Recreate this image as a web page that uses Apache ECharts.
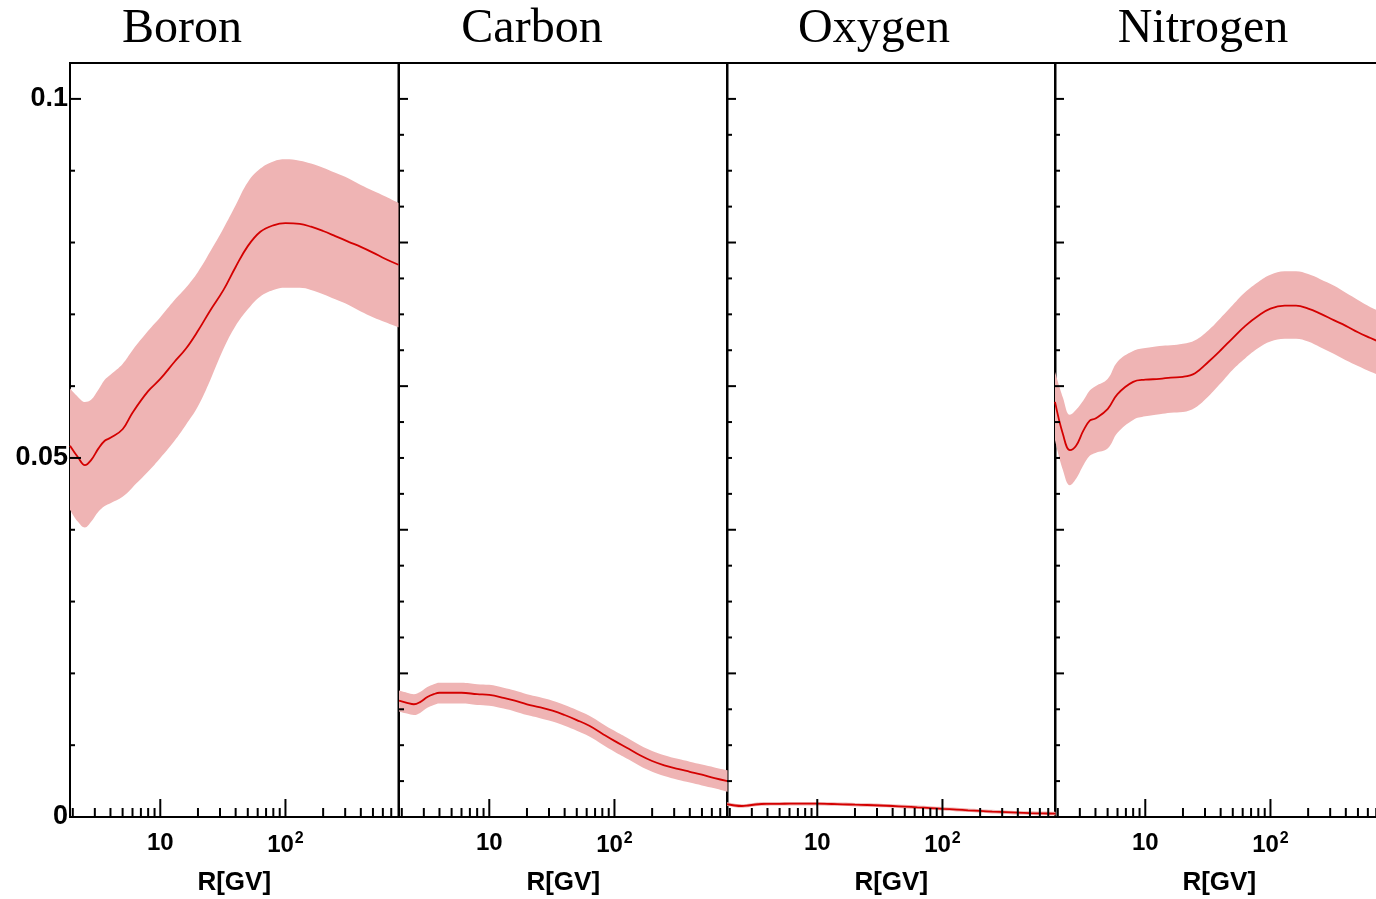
<!DOCTYPE html>
<html>
<head>
<meta charset="utf-8">
<script src="https://cdn.jsdelivr.net/npm/echarts@6/dist/echarts.min.js"></script>
<style>
  html, body { margin: 0; padding: 0; background: #fff; }
  #chart { width: 1376px; height: 899px; }
</style>
</head>
<body>
<div id="chart"></div>
<script>
// Rigidity sampling points (GV), shared by all four panels
const rigidity = [1.9, 2.2, 2.5, 2.8, 3.2, 3.6, 4, 5, 6, 8, 10, 13, 16, 20, 25, 32, 40, 50, 63, 80,
                  100, 130, 160, 200, 250, 320, 400, 500, 630, 800];

const elements = ['Boron', 'Carbon', 'Oxygen', 'Nitrogen'];

// Central curve and uncertainty band for each element
const boronMid  = [0.0517, 0.0501, 0.0490, 0.0497, 0.0513, 0.0524, 0.0528, 0.0540, 0.0563, 0.0593, 0.0610, 0.0634, 0.0652, 0.0677, 0.0705, 0.0734, 0.0766, 0.0795, 0.0815, 0.0824, 0.0827, 0.0826, 0.0822, 0.0816, 0.0809, 0.0801, 0.0794, 0.0786, 0.0777, 0.0769];
const boronLow  = [0.0428, 0.0411, 0.0403, 0.0411, 0.0425, 0.0433, 0.0437, 0.0446, 0.0459, 0.0481, 0.0500, 0.0524, 0.0546, 0.0572, 0.0608, 0.0652, 0.0684, 0.0707, 0.0725, 0.0734, 0.0737, 0.0737, 0.0734, 0.0728, 0.0721, 0.0713, 0.0704, 0.0696, 0.0689, 0.0682];
const boronHigh = [0.0597, 0.0585, 0.0578, 0.0581, 0.0595, 0.0609, 0.0616, 0.0631, 0.0650, 0.0677, 0.0696, 0.0720, 0.0737, 0.0759, 0.0787, 0.0820, 0.0852, 0.0884, 0.0903, 0.0913, 0.0916, 0.0914, 0.0910, 0.0904, 0.0897, 0.0889, 0.0880, 0.0872, 0.0864, 0.0855];

const carbonMid  = [0.0162, 0.0159, 0.0157, 0.0160, 0.0167, 0.0171, 0.0173, 0.0173, 0.0173, 0.0171, 0.0170, 0.0166, 0.0162, 0.0157, 0.0153, 0.0148, 0.0142, 0.0135, 0.0127, 0.0116, 0.0106, 0.0095, 0.0086, 0.0078, 0.0072, 0.0067, 0.0063, 0.0059, 0.0054, 0.0050];
const carbonLow  = [0.0147, 0.0144, 0.0142, 0.0145, 0.0152, 0.0156, 0.0158, 0.0158, 0.0158, 0.0156, 0.0155, 0.0151, 0.0147, 0.0142, 0.0138, 0.0133, 0.0127, 0.0120, 0.0112, 0.0101, 0.0091, 0.0080, 0.0071, 0.0063, 0.0057, 0.0052, 0.0048, 0.0044, 0.0040, 0.0035];
const carbonHigh = [0.0176, 0.0173, 0.0171, 0.0174, 0.0181, 0.0185, 0.0187, 0.0187, 0.0187, 0.0185, 0.0184, 0.0180, 0.0176, 0.0171, 0.0167, 0.0162, 0.0156, 0.0149, 0.0141, 0.0130, 0.0120, 0.0109, 0.0100, 0.0092, 0.0086, 0.0081, 0.0077, 0.0073, 0.0069, 0.0065];

const oxygenMid  = [0.00180, 0.00160, 0.00153, 0.00160, 0.00174, 0.00181, 0.00183, 0.00184, 0.00185, 0.00185, 0.00185, 0.00181, 0.00177, 0.00171, 0.00167, 0.00160, 0.00153, 0.00145, 0.00135, 0.00125, 0.00114, 0.00103, 0.00093, 0.00084, 0.00075, 0.00067, 0.00060, 0.00054, 0.00050, 0.00046];
const oxygenLow  = [0.00155, 0.00135, 0.00128, 0.00135, 0.00149, 0.00156, 0.00158, 0.00159, 0.00160, 0.00160, 0.00160, 0.00156, 0.00152, 0.00146, 0.00142, 0.00135, 0.00128, 0.00120, 0.00110, 0.00100, 0.00089, 0.00078, 0.00068, 0.00059, 0.00050, 0.00042, 0.00035, 0.00029, 0.00025, 0.00021];
const oxygenHigh = [0.00205, 0.00185, 0.00178, 0.00185, 0.00199, 0.00206, 0.00208, 0.00209, 0.00210, 0.00210, 0.00210, 0.00206, 0.00202, 0.00196, 0.00192, 0.00185, 0.00178, 0.00170, 0.00160, 0.00150, 0.00139, 0.00128, 0.00118, 0.00109, 0.00100, 0.00092, 0.00085, 0.00079, 0.00075, 0.00071];

const nitrogenMid  = [0.0578, 0.0533, 0.0511, 0.0517, 0.0538, 0.0552, 0.0555, 0.0568, 0.0589, 0.0606, 0.0609, 0.0610, 0.0612, 0.0613, 0.0618, 0.0634, 0.0650, 0.0667, 0.0684, 0.0698, 0.0708, 0.0712, 0.0712, 0.0708, 0.0701, 0.0692, 0.0684, 0.0675, 0.0667, 0.0659];
const nitrogenLow  = [0.0525, 0.0483, 0.0462, 0.0471, 0.0490, 0.0503, 0.0507, 0.0513, 0.0535, 0.0553, 0.0558, 0.0561, 0.0563, 0.0564, 0.0570, 0.0586, 0.0604, 0.0623, 0.0639, 0.0653, 0.0662, 0.0666, 0.0666, 0.0662, 0.0654, 0.0645, 0.0636, 0.0628, 0.0620, 0.0613];
const nitrogenHigh = [0.0620, 0.0584, 0.0560, 0.0567, 0.0580, 0.0594, 0.0600, 0.0610, 0.0634, 0.0649, 0.0653, 0.0656, 0.0657, 0.0659, 0.0664, 0.0678, 0.0695, 0.0713, 0.0731, 0.0745, 0.0755, 0.0760, 0.0760, 0.0756, 0.0749, 0.0740, 0.0730, 0.0720, 0.0710, 0.0702];

// Tick positions
const xMajorTicks = [10, 100];
const xMinorTicks = [2, 3, 4, 5, 6, 7, 8, 9, 20, 30, 40, 50, 60, 70, 80, 90, 200, 300, 400, 500, 600, 700];
const yMajorTicksFirst = [0, 0.05, 0.1];
const yMinorTicksFirst = [0.01, 0.02, 0.03, 0.04, 0.06, 0.07, 0.08, 0.09];
const yMajorTicks = [0, 0.02, 0.04, 0.06, 0.08, 0.1];
const yMinorTicks = [0.005, 0.01, 0.015, 0.025, 0.03, 0.035, 0.045, 0.05, 0.055, 0.065, 0.07, 0.075, 0.085, 0.09, 0.095];
const yTickLabels = ['0', '0.05', '0.1'];

const mids  = [boronMid, carbonMid, oxygenMid, nitrogenMid];
const lows  = [boronLow, carbonLow, oxygenLow, nitrogenLow];
const highs = [boronHigh, carbonHigh, oxygenHigh, nitrogenHigh];

const X_MIN = 1.9, X_MAX = 800, Y_MIN = 0, Y_MAX = 0.105;
const panelLeft = [70, 399, 727, 1055];
const panelWidth = 328.5;
const titleCenter = [177, 527, 869, 1198];

const BAND = '#efb4b4';
const LINE = '#d40000';
const SMOOTH = 0.4;
const SANS = '"Liberation Sans", Arial, Helvetica, sans-serif';
const SERIF = '"Liberation Serif", "Times New Roman", serif';

const chart = echarts.init(document.getElementById('chart'), null, { renderer: 'canvas' });

const grids = [], xAxes = [], yAxes = [], series = [], titles = [];

function tickSeries(i, data) {
  return {
    type: 'custom', xAxisIndex: i, yAxisIndex: i, silent: true, z: 10,
    clip: false, animation: false,
    data: data,
    encode: { x: 0, y: 1 },
    renderItem: function (params, api) {
      const p = api.coord([api.value(0), api.value(1)]);
      const dx = api.value(2), dy = api.value(3);
      return {
        type: 'line',
        shape: { x1: p[0], y1: p[1], x2: p[0] + dx, y2: p[1] - dy },
        style: { stroke: '#000', lineWidth: 2 }
      };
    }
  };
}

for (let i = 0; i < 4; i++) {
  grids.push({
    left: panelLeft[i], top: 63, width: panelWidth, height: 754,
    show: true, borderColor: '#000', borderWidth: 2, backgroundColor: 'transparent',
    containLabel: false, outerBoundsMode: 'none'
  });
  xAxes.push({
    type: 'log', logBase: 10, gridIndex: i, min: X_MIN, max: X_MAX,
    name: 'R[GV]', nameLocation: 'middle', nameGap: 53,
    nameTextStyle: { fontFamily: SANS, fontWeight: 'bold', fontSize: 26, color: '#000' },
    axisLine: { show: true, lineStyle: { color: '#000', width: 2 } },
    axisTick: { show: false }, splitLine: { show: false }, minorTick: { show: false },
    axisLabel: {
      show: true, margin: 14, showMinLabel: false, showMaxLabel: false, color: '#000',
      formatter: function (v) {
        const l = Math.log10(v), r = Math.round(l);
        if (Math.abs(l - r) > 1e-6) return '';
        if (r === 1) return '{b|10}';
        if (r === 2) return '{b|10}{s|2}';
        return '';
      },
      rich: {
        b: { fontFamily: SANS, fontWeight: 'bold', fontSize: 24, color: '#000' },
        s: { fontFamily: SANS, fontWeight: 'bold', fontSize: 16, color: '#000', verticalAlign: 'top', padding: [0, 0, 12, 1] }
      }
    }
  });
  yAxes.push({
    type: 'value', gridIndex: i, min: Y_MIN, max: Y_MAX, interval: 0.05,
    axisLine: { show: true, lineStyle: { color: '#000', width: 2 } },
    axisTick: { show: false }, splitLine: { show: false },
    axisLabel: {
      show: i === 0, margin: 2, showMaxLabel: false, padding: [4, 0, 0, 0],
      fontFamily: SANS, fontWeight: 'bold', fontSize: 27, color: '#000',
      formatter: function (v) {
        if (Math.abs(v) < 1e-9) return yTickLabels[0];
        if (Math.abs(v - 0.05) < 1e-9) return yTickLabels[1];
        if (Math.abs(v - 0.1) < 1e-9) return yTickLabels[2];
        return '';
      }
    }
  });
  titles.push({
    text: elements[i], left: titleCenter[i], top: 0, textAlign: 'center',
    textStyle: { fontFamily: SERIF, fontWeight: 'normal', fontSize: 48, color: '#000' }
  });

  // Data columns are [value, rigidity] so that the stack runs along the value (y) axis
  const lowData = rigidity.map((r, k) => [lows[i][k], r]);
  const spanData = rigidity.map((r, k) => [highs[i][k] - lows[i][k], r]);
  const midData = rigidity.map((r, k) => [r, mids[i][k]]);

  series.push({
    type: 'line', xAxisIndex: i, yAxisIndex: i, stack: 'band' + i, data: lowData,
    encode: { x: 1, y: 0 },
    symbol: 'none', smooth: SMOOTH, silent: true, lineStyle: { opacity: 0 }, z: 1, animation: false
  });
  series.push({
    type: 'line', xAxisIndex: i, yAxisIndex: i, stack: 'band' + i, data: spanData,
    encode: { x: 1, y: 0 },
    symbol: 'none', smooth: SMOOTH, silent: true, lineStyle: { opacity: 0 },
    areaStyle: { color: BAND, opacity: 1 }, z: 1, animation: false
  });
  series.push({
    type: 'line', xAxisIndex: i, yAxisIndex: i, data: midData,
    symbol: 'none', smooth: SMOOTH, silent: true,
    lineStyle: { color: LINE, width: 1.8 }, z: 3, animation: false
  });

  // Tick marks: [x, y, dx, dy]
  const xt = xMajorTicks.map(v => [v, Y_MIN, 0, 18]).concat(xMinorTicks.map(v => [v, Y_MIN, 0, 9]));
  series.push(tickSeries(i, xt));
  const yMaj = i === 0 ? yMajorTicksFirst : yMajorTicks;
  const yMin = i === 0 ? yMinorTicksFirst : yMinorTicks;
  const majLen = i === 0 ? 11 : 9;
  const yt = yMaj.map(v => [X_MIN, v, majLen, 0]).concat(yMin.map(v => [X_MIN, v, 5, 0]));
  series.push(tickSeries(i, yt));
}

chart.setOption({
  backgroundColor: '#fff',
  animation: false,
  title: titles,
  grid: grids,
  xAxis: xAxes,
  yAxis: yAxes,
  series: series
});
</script>
</body>
</html>
